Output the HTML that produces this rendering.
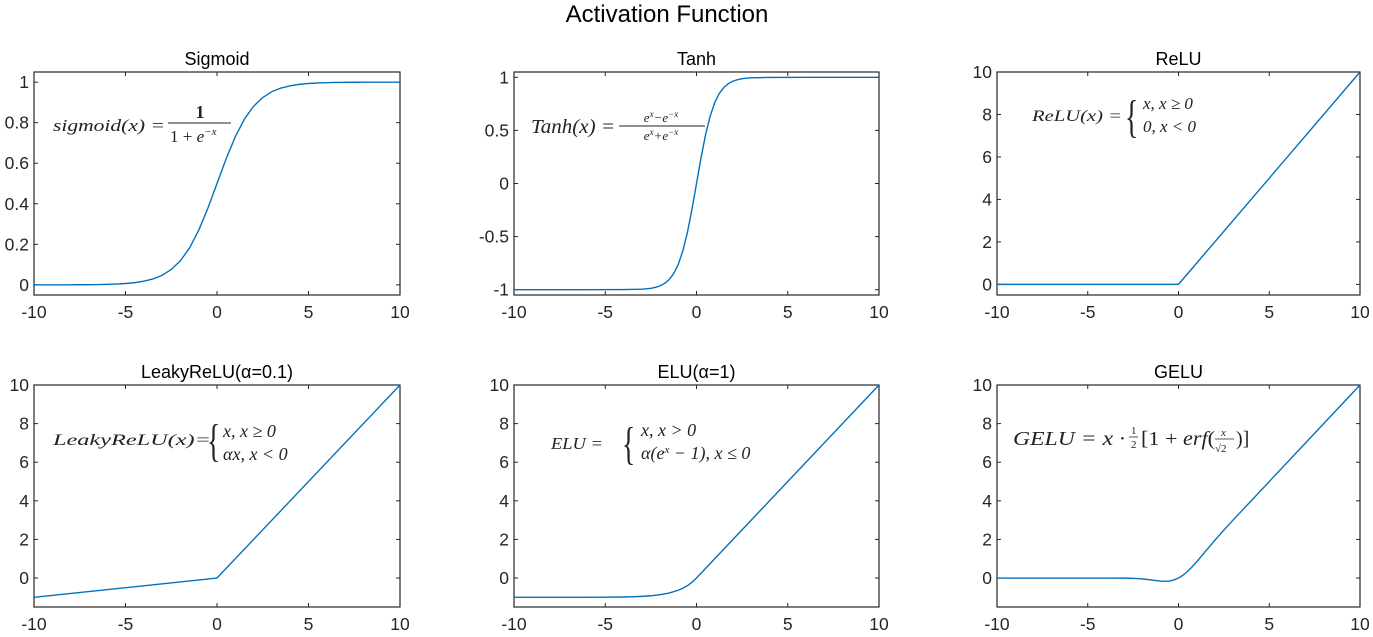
<!DOCTYPE html>
<html><head><meta charset="utf-8">
<style>
html,body{margin:0;padding:0;background:#fff;}
svg{display:block;font-family:"Liberation Sans",sans-serif;}
.tick{font-size:17.5px;fill:#262626;}
.ttl{font-size:18px;fill:#000;}
.m{font-family:"Liberation Serif",serif;font-style:italic;fill:#222;}
.r{font-family:"Liberation Serif",serif;font-style:normal;fill:#222;}
</style></head>
<body>
<svg id="fig" width="1373" height="637" viewBox="0 0 1373 637">
<text x="667" y="22" text-anchor="middle" font-size="24">Activation Function</text>
<g id="plots"></g>
<g id="formulas">
  <g>
    <text class="m" x="53" y="131" font-size="17" textLength="112" lengthAdjust="spacingAndGlyphs">sigmoid(x) =</text>
    <text class="r" x="200" y="118" font-size="18" text-anchor="middle" font-weight="bold">1</text>
    <line x1="168" y1="123" x2="231" y2="123" stroke="#222" stroke-width="1"/>
    <text class="r" x="170" y="142" font-size="17">1 + <tspan class="m">e</tspan><tspan font-size="11" dy="-7" class="m">−x</tspan></text>
  </g>
  <g>
    <text class="m" x="531" y="133" font-size="20" textLength="84" lengthAdjust="spacingAndGlyphs">Tanh(x) =</text>
    <text class="m" x="661" y="122" font-size="13" text-anchor="middle">e<tspan font-size="9" dy="-5">x</tspan><tspan dy="5">−e</tspan><tspan font-size="9" dy="-5">−x</tspan></text>
    <line x1="619" y1="126" x2="705" y2="126" stroke="#222" stroke-width="1"/>
    <text class="m" x="661" y="140" font-size="13" text-anchor="middle">e<tspan font-size="9" dy="-5">x</tspan><tspan dy="5">+e</tspan><tspan font-size="9" dy="-5">−x</tspan></text>
  </g>
  <g>
    <text class="m" x="1032" y="121" font-size="16" textLength="90" lengthAdjust="spacingAndGlyphs">ReLU(x) =</text>
    <text class="r" x="1125" y="132" font-size="46" transform="translate(1125,0) scale(0.6,1) translate(-1125,0)">{</text>
    <text class="m" x="1143" y="109" font-size="17">x, x ≥ 0</text>
    <text class="m" x="1143" y="132" font-size="17">0, x &lt; 0</text>
  </g>
  <g>
    <text class="m" x="53" y="445" font-size="16" textLength="158" lengthAdjust="spacingAndGlyphs">LeakyReLU(x)=</text>
    <text class="r" x="207" y="456" font-size="46" transform="translate(207,0) scale(0.6,1) translate(-207,0)">{</text>
    <text class="m" x="223" y="437" font-size="18">x, x ≥ 0</text>
    <text class="m" x="223" y="460" font-size="18">αx, x &lt; 0</text>
  </g>
  <g>
    <text class="m" x="551" y="449" font-size="17" textLength="52" lengthAdjust="spacingAndGlyphs">ELU =</text>
    <text class="r" x="622" y="459" font-size="46" transform="translate(622,0) scale(0.6,1) translate(-622,0)">{</text>
    <text class="m" x="641" y="436" font-size="18">x, x &gt; 0</text>
    <text class="m" x="641" y="459" font-size="18">α(e<tspan font-size="11" dy="-6">x</tspan><tspan dy="6"> − 1), x ≤ 0</tspan></text>
  </g>
  <g>
    <text class="m" x="1013" y="445" font-size="20" textLength="112" lengthAdjust="spacingAndGlyphs">GELU = x ·</text>
    <text class="r" x="1131" y="434" font-size="11">1</text>
    <line x1="1129" y1="437" x2="1138" y2="437" stroke="#222" stroke-width="0.8"/>
    <text class="r" x="1131" y="448" font-size="11">2</text>
    <text class="r" x="1141" y="445" font-size="20" textLength="74" lengthAdjust="spacingAndGlyphs">[1 + <tspan class="m">erf</tspan>(</text>
    <text class="m" x="1221" y="436" font-size="11">x</text>
    <line x1="1215" y1="439" x2="1234" y2="439" stroke="#222" stroke-width="0.8"/>
    <text class="r" x="1215" y="452" font-size="11">√2</text>
    <text class="r" x="1236" y="445" font-size="20">)]</text>
  </g>
</g>
</svg>
<script>
// ---- data ----
const xTicks = [-10,-5,0,5,10];
const sigX = [-10,-9.5,-9,-8.5,-8,-7.5,-7,-6.5,-6,-5.5,-5,-4.5,-4,-3.5,-3,-2.5,-2,-1.5,-1,-0.5,0,0.5,1,1.5,2,2.5,3,3.5,4,4.5,5,5.5,6,6.5,7,7.5,8,8.5,9,9.5,10];
const sigY = [0,0.0001,0.0001,0.0002,0.0003,0.0006,0.0009,0.0015,0.0025,0.0041,0.0067,0.011,0.018,0.029,0.047,0.076,0.119,0.182,0.269,0.378,0.5,0.622,0.731,0.818,0.881,0.924,0.953,0.971,0.982,0.989,0.9933,0.9959,0.9975,0.9985,0.9991,0.9994,0.9997,0.9998,0.9999,0.9999,1];
const tanhX = [-10,-6,-4,-3,-2.75,-2.5,-2.25,-2,-1.75,-1.5,-1.25,-1,-0.75,-0.5,-0.25,0,0.25,0.5,0.75,1,1.25,1.5,1.75,2,2.25,2.5,2.75,3,4,6,10];
const tanhY = [-1,-1,-0.999,-0.995,-0.992,-0.987,-0.978,-0.964,-0.941,-0.905,-0.848,-0.762,-0.635,-0.462,-0.245,0,0.245,0.462,0.635,0.762,0.848,0.905,0.941,0.964,0.978,0.987,0.992,0.995,0.999,1,1];
const reluX = [-10,0,10];
const reluY = [0,0,10];
const leakyX = [-10,0,10];
const leakyY = [-1,0,10];
const eluX = [-10,-6,-5,-4,-3.5,-3,-2.5,-2,-1.5,-1,-0.75,-0.5,-0.25,0,10];
const eluY = [-1,-0.998,-0.993,-0.982,-0.970,-0.950,-0.918,-0.865,-0.777,-0.632,-0.528,-0.393,-0.221,0,10];
const geluX = [-10,-4,-3.5,-3,-2.5,-2,-1.5,-1.25,-1,-0.75,-0.5,-0.25,0,0.25,0.5,0.75,1,1.5,2,2.5,3,10];
const geluY = [0,-0.0001,-0.0008,-0.004,-0.016,-0.045,-0.100,-0.132,-0.159,-0.170,-0.154,-0.100,0,0.150,0.346,0.580,0.841,1.400,1.955,2.484,2.996,10];
const yTicksSig = [0,0.2,0.4,0.6,0.8,1];
const yTicksTanh = [-1,-0.5,0,0.5,1];
const yTicksBig = [0,2,4,6,8,10];

const NS = "http://www.w3.org/2000/svg";
const root = document.getElementById('plots');
function mk(tag, attrs, parent){ const e=document.createElementNS(NS,tag); for(const k in attrs) e.setAttribute(k,attrs[k]); parent.appendChild(e); return e; }

const cols = [[34,400],[514,879],[997,1360]];
const rows = [[72,295],[385,607]];
const panels = [
  {name:'sigmoid', title:'Sigmoid', c:0, r:0, ylim:[-0.05,1.05], yt:yTicksSig, xs:sigX, ys:sigY},
  {name:'tanh', title:'Tanh', c:1, r:0, ylim:[-1.05,1.05], yt:yTicksTanh, xs:tanhX, ys:tanhY},
  {name:'relu', title:'ReLU', c:2, r:0, ylim:[-0.5,10], yt:yTicksBig, xs:reluX, ys:reluY},
  {name:'leakyrelu', title:'LeakyReLU(\u03B1=0.1)', c:0, r:1, ylim:[-1.5,10], yt:yTicksBig, xs:leakyX, ys:leakyY},
  {name:'elu', title:'ELU(\u03B1=1)', c:1, r:1, ylim:[-1.5,10], yt:yTicksBig, xs:eluX, ys:eluY},
  {name:'gelu', title:'GELU', c:2, r:1, ylim:[-1.5,10], yt:yTicksBig, xs:geluX, ys:geluY}
];
panels.forEach(p=>{
  const [x0,x1]=cols[p.c], [y0,y1]=rows[p.r];
  const sx = v => x0 + (v+10)/20*(x1-x0);
  const sy = v => y1 - (v-p.ylim[0])/(p.ylim[1]-p.ylim[0])*(y1-y0);
  const g = mk('g',{},root);
  
  
  const t = mk('text',{x:(x0+x1)/2, y:y0-7, 'text-anchor':'middle', class:'ttl'},g);
  t.textContent = p.title;
  
  
  const box = mk('rect',{x:x0,y:y0,width:x1-x0,height:y1-y0,fill:'none',stroke:'#262626','stroke-width':1.2},g);
  
  
  xTicks.forEach(v=>{
    const X=sx(v);
    mk('line',{x1:X,y1:y1,x2:X,y2:y1-4,stroke:'#262626'},g);
    mk('line',{x1:X,y1:y0,x2:X,y2:y0+4,stroke:'#262626'},g);
    const l = mk('text',{x:X,y:y1+23,'text-anchor':'middle',class:'tick'},g);
    l.textContent = v;
    
    
  });
  p.yt.forEach(v=>{
    const Y=sy(v);
    mk('line',{x1:x0,y1:Y,x2:x0+4,y2:Y,stroke:'#262626'},g);
    mk('line',{x1:x1,y1:Y,x2:x1-4,y2:Y,stroke:'#262626'},g);
    const l = mk('text',{x:x0-5,y:Y+6,'text-anchor':'end',class:'tick'},g);
    l.textContent = v;
    
    
  });
  const pts = p.xs.map((v,i)=>sx(v).toFixed(2)+','+sy(p.ys[i]).toFixed(2)).join(' ');
  const line = mk('polyline',{points:pts,fill:'none',stroke:'#0072BD','stroke-width':1.4,'stroke-linejoin':'round'},g);
  
  
});
</script>
</body></html>
